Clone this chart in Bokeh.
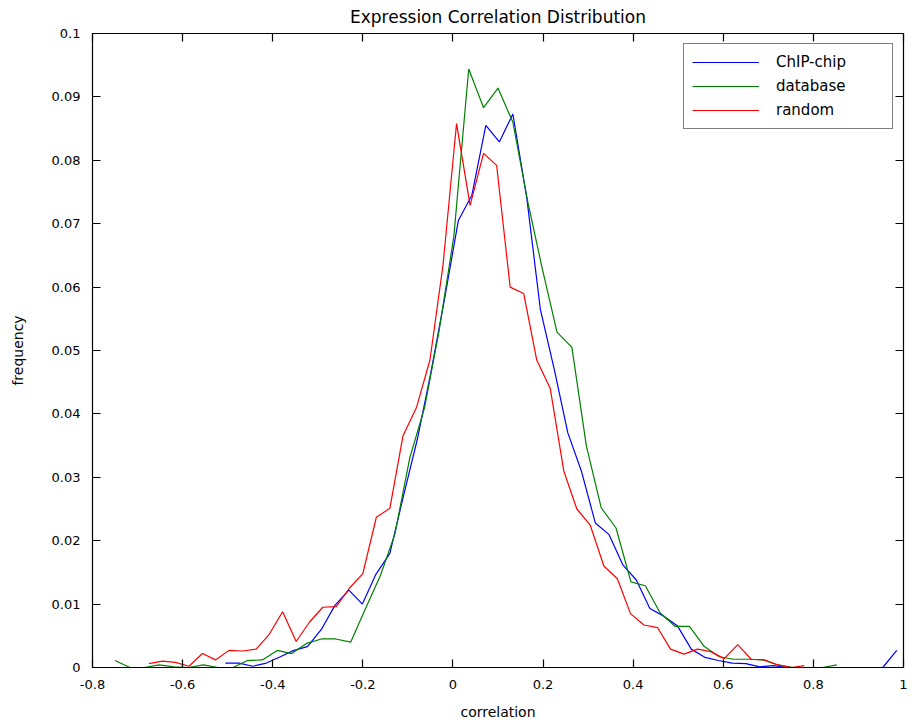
from bokeh.plotting import figure
from bokeh.models import (Range1d, FixedTicker, LinearAxis, Legend, LegendItem,
                          CustomJSTickFormatter, ColumnDataSource)
from bokeh.embed import file_html
from bokeh.resources import INLINE

# ---------------- data ----------------
chip_x = [-0.505, -0.475, -0.444, -0.414, -0.383, -0.353, -0.323, -0.292, -0.262, -0.231,
          -0.201, -0.171, -0.140, -0.110, -0.079, -0.049, -0.019, 0.012, 0.042, 0.073,
          0.103, 0.133, 0.164, 0.194, 0.225, 0.255, 0.285, 0.316, 0.346, 0.377,
          0.407, 0.437, 0.468, 0.498, 0.529, 0.559, 0.589, 0.620, 0.650, 0.681,
          0.711, 0.741, 0.772, 0.802, 0.833, 0.863, 0.893, 0.924, 0.954, 0.985]
chip_y = [0.0007, 0.0007, 0.0002, 0.0007, 0.0017, 0.0027, 0.0033, 0.0060, 0.0098, 0.0122,
          0.0100, 0.0147, 0.0180, 0.0270, 0.0360, 0.0465, 0.0580, 0.0705, 0.0745, 0.0855,
          0.0829, 0.0873, 0.0740, 0.0565, 0.0470, 0.0370, 0.0310, 0.0228, 0.0210, 0.0162,
          0.0138, 0.0093, 0.0081, 0.0066, 0.0029, 0.0016, 0.0011, 0.0007, 0.0006, 0.0001,
          0.0003, 0.0, 0.0, 0.0, 0.0, 0.0, 0.0, 0.0, 0.0, 0.0027]

db_x = [-0.750, -0.717, -0.685, -0.652, -0.619, -0.587, -0.554, -0.521, -0.488, -0.456,
        -0.423, -0.390, -0.358, -0.325, -0.292, -0.260, -0.227, -0.194, -0.161, -0.129,
        -0.096, -0.063, -0.031, 0.002, 0.035, 0.068, 0.100, 0.133, 0.166, 0.198,
        0.231, 0.264, 0.296, 0.329, 0.362, 0.395, 0.427, 0.460, 0.493, 0.525,
        0.558, 0.591, 0.623, 0.656, 0.689, 0.722, 0.754, 0.787, 0.820, 0.852]
db_y = [0.0011, 0.0, 0.0, 0.0004, 0.0001, 0.0, 0.0004, 0.0, 0.0, 0.0011,
        0.0012, 0.0027, 0.0022, 0.0038, 0.0045, 0.0045, 0.0040, 0.0093, 0.0145, 0.0210,
        0.0330, 0.0410, 0.0530, 0.0680, 0.0944, 0.0883, 0.0914, 0.0860, 0.0735, 0.0630,
        0.0529, 0.0505, 0.0350, 0.0252, 0.0220, 0.0135, 0.0129, 0.0086, 0.0065, 0.0065,
        0.0033, 0.0017, 0.0013, 0.0013, 0.0012, 0.0004, 0.0, 0.0, 0.0, 0.0004]

rand_x = [-0.675, -0.645, -0.616, -0.586, -0.556, -0.527, -0.497, -0.467, -0.437, -0.408,
          -0.378, -0.348, -0.319, -0.289, -0.259, -0.230, -0.200, -0.170, -0.140, -0.111,
          -0.081, -0.051, -0.022, 0.008, 0.038, 0.068, 0.097, 0.127, 0.157, 0.186,
          0.216, 0.246, 0.275, 0.305, 0.335, 0.365, 0.394, 0.424, 0.454, 0.483,
          0.513, 0.543, 0.572, 0.602, 0.632, 0.662, 0.691, 0.721, 0.751, 0.780]
rand_y = [0.0006, 0.0010, 0.0008, 0.0002, 0.0022, 0.0012, 0.0027, 0.0026, 0.0029, 0.0052,
          0.0088, 0.0041, 0.0071, 0.0095, 0.0096, 0.0125, 0.0148, 0.0237, 0.0251, 0.0365,
          0.0410, 0.0485, 0.0635, 0.0858, 0.0729, 0.0811, 0.0792, 0.0600, 0.0590, 0.0485,
          0.0440, 0.0310, 0.0250, 0.0224, 0.0160, 0.0140, 0.0085, 0.0067, 0.0063, 0.0029,
          0.0021, 0.0029, 0.0025, 0.0014, 0.0036, 0.0013, 0.0012, 0.0004, 0.0000, 0.0003]

series_names = ["ChIP-chip", "database", "random"]
series_colors = ["#0000ff", "#008000", "#ff0000"]

x_ticks = [-0.8, -0.6, -0.4, -0.2, 0, 0.2, 0.4, 0.6, 0.8, 1]
y_ticks = [0, 0.01, 0.02, 0.03, 0.04, 0.05, 0.06, 0.07, 0.08, 0.09, 0.1]

title_text = "Expression Correlation Distribution"
x_label = "correlation"
y_label = "frequency"

FONT = "DejaVu Sans"

# ---------------- figure ----------------
p = figure(width=912, height=722,
           x_range=Range1d(-0.8, 1), y_range=Range1d(0, 0.1),
           output_backend="svg", toolbar_location=None,
           min_border_left=92, min_border_right=9,
           min_border_top=33, min_border_bottom=52,
           title=title_text)

p.title.align = "center"
p.title.vertical_align = "top"
p.title.text_font = FONT
p.title.text_font_size = "17px"
p.title.text_font_style = "normal"
p.title.text_color = "black"
p.title.standoff = 9

p.xgrid.visible = False
p.ygrid.visible = False
p.outline_line_color = "black"
p.outline_line_width = 1.2
p.background_fill_color = "white"
p.border_fill_color = "white"

fmt = CustomJSTickFormatter(code="return String(Math.round(tick*1000)/1000);")

xa = p.xaxis[0]
xa.ticker = FixedTicker(ticks=x_ticks)
xa.formatter = fmt
ya = p.yaxis[0]
ya.ticker = FixedTicker(ticks=y_ticks)
ya.formatter = fmt

for ax in (xa, ya):
    ax.major_tick_in = 8
    ax.major_tick_out = 0
    ax.major_tick_line_color = "black"
    ax.major_tick_line_width = 1.2
    ax.minor_tick_line_color = None
    ax.axis_line_color = "black"
    ax.major_label_text_font = FONT
    ax.major_label_text_font_size = "13px"
    ax.major_label_text_color = "black"
    ax.axis_label_text_font = FONT
    ax.axis_label_text_font_size = "14px"
    ax.axis_label_text_font_style = "normal"
    ax.axis_label_text_color = "black"

xa.axis_label = x_label
xa.major_label_standoff = 12
xa.axis_label_standoff = 12
ya.axis_label = y_label
ya.major_label_standoff = 12
ya.axis_label_standoff = 23

# mirror ticks on top and right (box style), without labels
for loc, ticks in (("above", x_ticks), ("right", y_ticks)):
    ax2 = LinearAxis(ticker=FixedTicker(ticks=ticks),
                     major_tick_in=8, major_tick_out=0,
                     major_tick_line_color="black", major_tick_line_width=1.2,
                     minor_tick_line_color=None, axis_line_color="black",
                     major_label_text_color=None,
                     major_label_text_font_size="0px", major_label_standoff=0)
    p.add_layout(ax2, loc)

# ---------------- lines ----------------
renderers = []
for xs, ys, color in ((chip_x, chip_y, series_colors[0]),
                      (db_x, db_y, series_colors[1]),
                      (rand_x, rand_y, series_colors[2])):
    src = ColumnDataSource(data=dict(x=xs, y=ys))
    r = p.line("x", "y", source=src, line_color=color, line_width=1.2)
    renderers.append(r)

legend = Legend(items=[LegendItem(label=n, renderers=[r])
                       for n, r in zip(series_names, renderers)],
                location="top_right")
legend.margin = 10
legend.padding = 8
legend.spacing = 4
legend.glyph_width = 67
legend.glyph_height = 20
legend.label_standoff = 17
legend.label_width = 108
legend.label_text_font = FONT
legend.label_text_font_size = "15px"
legend.label_text_color = "black"
legend.border_line_color = "black"
legend.border_line_width = 1.2
legend.background_fill_color = "white"
legend.background_fill_alpha = 1.0
p.add_layout(legend, "center")

open("out.html", "w").write(file_html(p, INLINE))
